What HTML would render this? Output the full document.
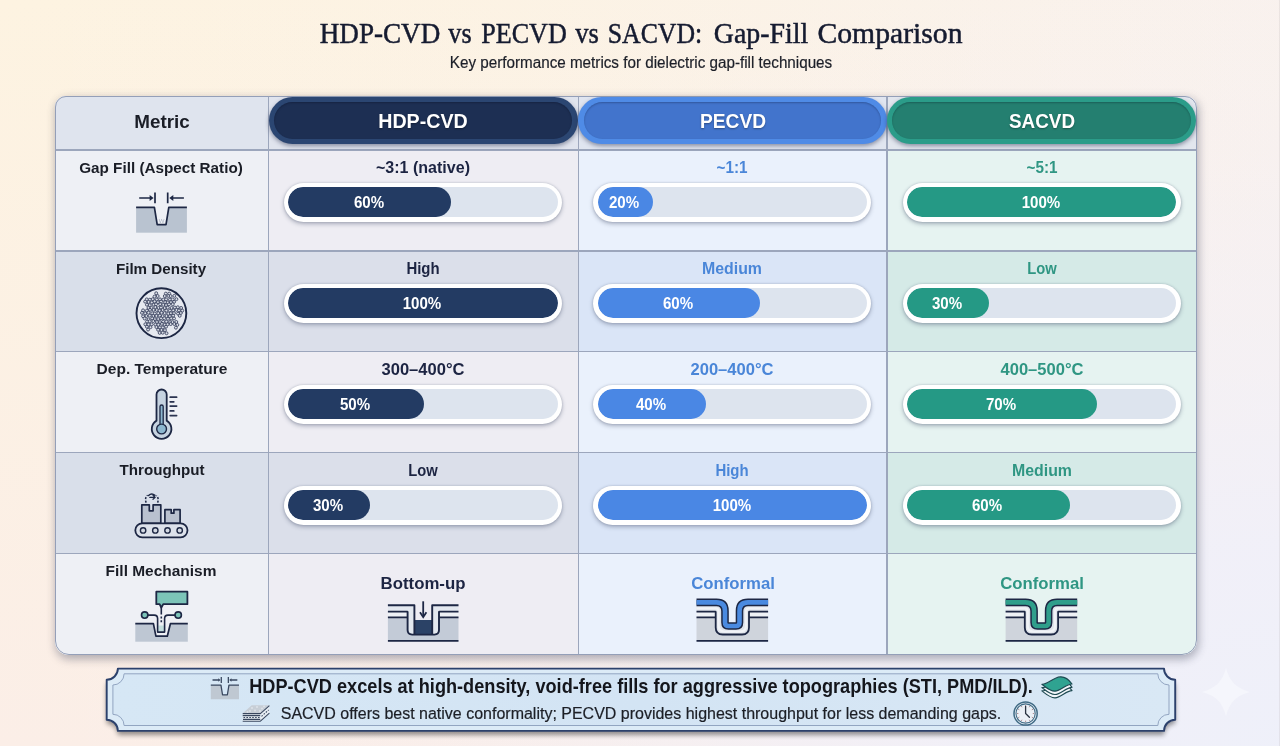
<!DOCTYPE html>
<html lang="en">
<head>
<meta charset="utf-8">
<title>HDP-CVD vs PECVD vs SACVD: Gap-Fill Comparison</title>
<style>
*{box-sizing:border-box;margin:0;padding:0}
html,body{width:1280px;height:746px;overflow:hidden}
body{position:relative;font-family:"Liberation Sans",sans-serif;color:#1b1f2a;
 background:
  radial-gradient(ellipse 1150px 800px at 100% 100%, rgba(238,240,250,.95) 0%, rgba(240,240,249,.9) 25%, rgba(241,240,248,.5) 50%, rgba(242,240,247,.12) 75%, rgba(242,240,247,0) 100%),
  linear-gradient(90deg, rgba(245,240,250,0) 0%, rgba(245,240,250,.12) 40%, rgba(245,240,250,.5) 100%),
  linear-gradient(180deg,#fdf3e1 0%,#fbeee7 100%);}
.abs{position:absolute}
h1{font-size:30px;font-weight:normal}
.tx{position:absolute;white-space:nowrap;line-height:1;font-weight:normal}
.tx.b{font-weight:bold}
.tx.r{-webkit-text-stroke:0.2px currentColor}
.tx.serif{font-family:"Liberation Serif",serif;-webkit-text-stroke:0.5px #151b30}
.tx.sh{text-shadow:0 1px 2px rgba(0,0,0,.35)}
#table{position:absolute;border-radius:11px 12px 15px 14px;overflow:hidden;background:#eceef4}
#tshadow{position:absolute;border-radius:11px 12px 15px 14px;box-shadow:0 5px 9px rgba(85,88,110,.26),2px 2px 10px rgba(85,88,110,.28)}
#tborder{position:absolute;border-radius:11px 12px 15px 14px;border:1.4px solid #949fb8}
.cell{position:absolute}
.vl{position:absolute;width:1.4px;background:#9ca6bc}
.hl{position:absolute;height:1.5px;background:#9ca6bc}
.hp{position:absolute;border-radius:24px;box-shadow:0 2px 4px rgba(30,40,70,.45)}
.hp i{position:absolute;left:5.4px;top:5.4px;right:5.4px;bottom:5.4px;border-radius:19px;box-shadow:inset 0 1px 2px rgba(0,0,20,.25)}
.bar{position:absolute;width:278px;height:38.5px;border-radius:20px;background:#fff;box-shadow:0 2px 4px rgba(60,70,100,.38),0 0 2px rgba(60,70,100,.25)}
.trk{position:absolute;left:4.2px;top:4px;width:269.6px;height:30px;border-radius:15px;background:#dde4ee;overflow:hidden}
.fill{position:absolute;left:0;top:0;height:30px;border-radius:15px}
.f1{background:#233b63}.f2{background:#4a87e4}.f3{background:#259985}
svg{position:absolute;overflow:visible}
</style>
</head>
<body>

<h1 id="title">
<span id="t0" class="tx serif  " style="left:379.55px;top:18.08px;font-size:30px;color:#151b30;transform:translateX(-50%) scaleX(0.9036)">HDP-CVD</span>
<span id="t1" class="tx serif  " style="left:459.85px;top:18.08px;font-size:30px;color:#151b30;transform:translateX(-50%) scaleX(0.8731)">vs</span>
<span id="t2" class="tx serif  " style="left:523.55px;top:18.08px;font-size:30px;color:#151b30;transform:translateX(-50%) scaleX(0.8693)">PECVD</span>
<span id="t3" class="tx serif  " style="left:586.80px;top:18.08px;font-size:30px;color:#151b30;transform:translateX(-50%) scaleX(0.8843)">vs</span>
<span id="t4" class="tx serif  " style="left:655.15px;top:18.08px;font-size:30px;color:#151b30;transform:translateX(-50%) scaleX(0.8588)">SACVD:</span>
<span id="t5" class="tx serif  " style="left:760.95px;top:18.08px;font-size:30px;color:#151b30;transform:translateX(-50%) scaleX(0.9295)">Gap-Fill</span>
<span id="t6" class="tx serif  " style="left:890.25px;top:18.08px;font-size:30px;color:#151b30;transform:translateX(-50%) scaleX(0.9893)">Comparison</span>
</h1>
<div id="t7" class="tx  r " style="left:640.80px;top:55.46px;font-size:16px;color:#1c1f28;transform:translateX(-50%) scaleX(0.9514)">Key performance metrics for dielectric gap-fill techniques</div>
<div id="tshadow" style="left:54.5px;top:96.2px;width:1142.0px;height:558.8px"></div>
<div id="table" style="left:54.5px;top:96.2px;width:1142.0px;height:558.8px">
<div class="cell" style="left:0.0px;top:0.0px;width:214.0px;height:53.60000000000001px;background:#dfe4ee"></div>
<div class="cell" style="left:0.0px;top:53.60000000000001px;width:214.0px;height:101.0px;background:#eef0f5"></div>
<div class="cell" style="left:0.0px;top:154.60000000000002px;width:214.0px;height:100.89999999999998px;background:#d9dfea"></div>
<div class="cell" style="left:0.0px;top:255.5px;width:214.0px;height:101.0px;background:#eef0f5"></div>
<div class="cell" style="left:0.0px;top:356.5px;width:214.0px;height:100.90000000000003px;background:#d9dfea"></div>
<div class="cell" style="left:0.0px;top:457.40000000000003px;width:214.0px;height:101.39999999999998px;background:#eef0f5"></div>
<div class="cell" style="left:214.0px;top:0.0px;width:309.70000000000005px;height:53.60000000000001px;background:#e0e4ee"></div>
<div class="cell" style="left:214.0px;top:53.60000000000001px;width:309.70000000000005px;height:101.0px;background:#eeedf3"></div>
<div class="cell" style="left:214.0px;top:154.60000000000002px;width:309.70000000000005px;height:100.89999999999998px;background:#dbdfea"></div>
<div class="cell" style="left:214.0px;top:255.5px;width:309.70000000000005px;height:101.0px;background:#eeedf3"></div>
<div class="cell" style="left:214.0px;top:356.5px;width:309.70000000000005px;height:100.90000000000003px;background:#dbdfea"></div>
<div class="cell" style="left:214.0px;top:457.40000000000003px;width:309.70000000000005px;height:101.39999999999998px;background:#eeedf3"></div>
<div class="cell" style="left:523.7px;top:0.0px;width:308.9px;height:53.60000000000001px;background:#e0e5f0"></div>
<div class="cell" style="left:523.7px;top:53.60000000000001px;width:308.9px;height:101.0px;background:#eaf1fc"></div>
<div class="cell" style="left:523.7px;top:154.60000000000002px;width:308.9px;height:100.89999999999998px;background:#dae5f7"></div>
<div class="cell" style="left:523.7px;top:255.5px;width:308.9px;height:101.0px;background:#eaf1fc"></div>
<div class="cell" style="left:523.7px;top:356.5px;width:308.9px;height:100.90000000000003px;background:#dae5f7"></div>
<div class="cell" style="left:523.7px;top:457.40000000000003px;width:308.9px;height:101.39999999999998px;background:#eaf1fc"></div>
<div class="cell" style="left:832.6px;top:0.0px;width:309.4px;height:53.60000000000001px;background:#e2e6ee"></div>
<div class="cell" style="left:832.6px;top:53.60000000000001px;width:309.4px;height:101.0px;background:#e6f3f1"></div>
<div class="cell" style="left:832.6px;top:154.60000000000002px;width:309.4px;height:100.89999999999998px;background:#d5eae7"></div>
<div class="cell" style="left:832.6px;top:255.5px;width:309.4px;height:101.0px;background:#e6f3f1"></div>
<div class="cell" style="left:832.6px;top:356.5px;width:309.4px;height:100.90000000000003px;background:#d5eae7"></div>
<div class="cell" style="left:832.6px;top:457.40000000000003px;width:309.4px;height:101.39999999999998px;background:#e6f3f1"></div>
<div class="vl" style="left:213.3px;top:0;height:558.8px"></div>
<div class="vl" style="left:523.0px;top:0;height:558.8px"></div>
<div class="vl" style="left:831.9px;top:0;height:558.8px"></div>
<div class="hl" style="top:52.85000000000001px;left:0;width:1142.0px"></div>
<div class="hl" style="top:153.85000000000002px;left:0;width:1142.0px"></div>
<div class="hl" style="top:254.75px;left:0;width:1142.0px"></div>
<div class="hl" style="top:355.75px;left:0;width:1142.0px"></div>
<div class="hl" style="top:456.65000000000003px;left:0;width:1142.0px"></div>
</div>
<div id="tborder" style="left:54.5px;top:96.2px;width:1142.0px;height:558.8px"></div>
<div class="hp" style="left:268.5px;top:96.6px;width:309.20000000000005px;height:47.8px;background:#2b4672"><i style="background:#1d2f53"></i></div>
<div id="t8" class="tx  b sh" style="left:423.35px;top:111.79px;font-size:19.5px;color:#ffffff;transform:translateX(-50%) scaleX(1.0074)">HDP-CVD</div>
<div class="hp" style="left:578.2px;top:96.6px;width:308.4px;height:47.8px;background:#4f8be6"><i style="background:#4274cc"></i></div>
<div id="t9" class="tx  b sh" style="left:732.65px;top:111.79px;font-size:19.5px;color:#ffffff;transform:translateX(-50%) scaleX(0.9823)">PECVD</div>
<div class="hp" style="left:887.1px;top:96.6px;width:308.9px;height:47.8px;background:#2b9c89"><i style="background:#247f70"></i></div>
<div id="t10" class="tx  b sh" style="left:1041.80px;top:111.79px;font-size:19.5px;color:#ffffff;transform:translateX(-50%) scaleX(0.9668)">SACVD</div>
<div id="t11" class="tx  b " style="left:161.50px;top:112.62px;font-size:18.4px;color:#1a1d26;transform:translateX(-50%) scaleX(1.0245)">Metric</div>
<div id="t12" class="tx  b " style="left:161.20px;top:159.58px;font-size:15.5px;color:#1a1d26;transform:translateX(-50%) scaleX(0.9842)">Gap Fill (Aspect Ratio)</div>
<div id="t13" class="tx  b " style="left:161.40px;top:260.58px;font-size:15.5px;color:#1a1d26;transform:translateX(-50%) scaleX(0.9786)">Film Density</div>
<div id="t14" class="tx  b " style="left:161.50px;top:361.48px;font-size:15.5px;color:#1a1d26;transform:translateX(-50%) scaleX(1.0020)">Dep. Temperature</div>
<div id="t15" class="tx  b " style="left:161.50px;top:462.48px;font-size:15.5px;color:#1a1d26;transform:translateX(-50%) scaleX(0.9764)">Throughput</div>
<div id="t16" class="tx  b " style="left:161.30px;top:563.38px;font-size:15.5px;color:#1a1d26;transform:translateX(-50%) scaleX(0.9971)">Fill Mechanism</div>
<div id="t17" class="tx  b " style="left:423.05px;top:159.86px;font-size:16px;color:#1c2442;transform:translateX(-50%) scaleX(1.0020)">~3:1 (native)</div>
<div class="bar" style="left:284.15px;top:183.10px"><div class="trk"><div class="fill f1" style="width:162.76px"></div></div></div>
<div id="t18" class="tx  b " style="left:368.93px;top:194.00px;font-size:16.3px;color:#ffffff;transform:translateX(-50%) scaleX(0.9266)">60%</div>
<div id="t19" class="tx  b " style="left:732.35px;top:159.86px;font-size:16px;color:#4a86d8;transform:translateX(-50%) scaleX(0.9548)">~1:1</div>
<div class="bar" style="left:593.45px;top:183.10px"><div class="trk"><div class="fill f2" style="width:54.92px"></div></div></div>
<div id="t20" class="tx  b " style="left:624.31px;top:194.00px;font-size:16.3px;color:#ffffff;transform:translateX(-50%) scaleX(0.9266)">20%</div>
<div id="t21" class="tx  b " style="left:1041.50px;top:159.86px;font-size:16px;color:#2f9683;transform:translateX(-50%) scaleX(0.9548)">~5:1</div>
<div class="bar" style="left:902.60px;top:183.10px"><div class="trk"><div class="fill f3" style="width:269.60px"></div></div></div>
<div id="t22" class="tx  b " style="left:1040.80px;top:194.00px;font-size:16.3px;color:#ffffff;transform:translateX(-50%) scaleX(0.9266)">100%</div>
<div id="t23" class="tx  b " style="left:423.05px;top:260.86px;font-size:16px;color:#1c2442;transform:translateX(-50%) scaleX(0.9340)">High</div>
<div class="bar" style="left:284.15px;top:284.10px"><div class="trk"><div class="fill f1" style="width:269.60px"></div></div></div>
<div id="t24" class="tx  b " style="left:422.35px;top:295.00px;font-size:16.3px;color:#ffffff;transform:translateX(-50%) scaleX(0.9266)">100%</div>
<div id="t25" class="tx  b " style="left:732.35px;top:260.86px;font-size:16px;color:#4a86d8;transform:translateX(-50%) scaleX(0.9925)">Medium</div>
<div class="bar" style="left:593.45px;top:284.10px"><div class="trk"><div class="fill f2" style="width:162.76px"></div></div></div>
<div id="t26" class="tx  b " style="left:678.23px;top:295.00px;font-size:16.3px;color:#ffffff;transform:translateX(-50%) scaleX(0.9266)">60%</div>
<div id="t27" class="tx  b " style="left:1041.50px;top:260.86px;font-size:16px;color:#2f9683;transform:translateX(-50%) scaleX(0.9219)">Low</div>
<div class="bar" style="left:902.60px;top:284.10px"><div class="trk"><div class="fill f3" style="width:81.88px"></div></div></div>
<div id="t28" class="tx  b " style="left:946.94px;top:295.00px;font-size:16.3px;color:#ffffff;transform:translateX(-50%) scaleX(0.9266)">30%</div>
<div id="t29" class="tx  b " style="left:423.05px;top:361.76px;font-size:16px;color:#1c2442;transform:translateX(-50%) scaleX(1.0343)">300–400°C</div>
<div class="bar" style="left:284.15px;top:385.00px"><div class="trk"><div class="fill f1" style="width:135.80px"></div></div></div>
<div id="t30" class="tx  b " style="left:355.45px;top:395.90px;font-size:16.3px;color:#ffffff;transform:translateX(-50%) scaleX(0.9266)">50%</div>
<div id="t31" class="tx  b " style="left:732.35px;top:361.76px;font-size:16px;color:#4a86d8;transform:translateX(-50%) scaleX(1.0343)">200–400°C</div>
<div class="bar" style="left:593.45px;top:385.00px"><div class="trk"><div class="fill f2" style="width:108.84px"></div></div></div>
<div id="t32" class="tx  b " style="left:651.27px;top:395.90px;font-size:16.3px;color:#ffffff;transform:translateX(-50%) scaleX(0.9266)">40%</div>
<div id="t33" class="tx  b " style="left:1041.50px;top:361.76px;font-size:16px;color:#2f9683;transform:translateX(-50%) scaleX(1.0343)">400–500°C</div>
<div class="bar" style="left:902.60px;top:385.00px"><div class="trk"><div class="fill f3" style="width:189.72px"></div></div></div>
<div id="t34" class="tx  b " style="left:1000.86px;top:395.90px;font-size:16.3px;color:#ffffff;transform:translateX(-50%) scaleX(0.9266)">70%</div>
<div id="t35" class="tx  b " style="left:423.05px;top:462.76px;font-size:16px;color:#1c2442;transform:translateX(-50%) scaleX(0.9219)">Low</div>
<div class="bar" style="left:284.15px;top:486.00px"><div class="trk"><div class="fill f1" style="width:81.88px"></div></div></div>
<div id="t36" class="tx  b " style="left:328.49px;top:496.90px;font-size:16.3px;color:#ffffff;transform:translateX(-50%) scaleX(0.9266)">30%</div>
<div id="t37" class="tx  b " style="left:732.35px;top:462.76px;font-size:16px;color:#4a86d8;transform:translateX(-50%) scaleX(0.9340)">High</div>
<div class="bar" style="left:593.45px;top:486.00px"><div class="trk"><div class="fill f2" style="width:269.60px"></div></div></div>
<div id="t38" class="tx  b " style="left:731.65px;top:496.90px;font-size:16.3px;color:#ffffff;transform:translateX(-50%) scaleX(0.9266)">100%</div>
<div id="t39" class="tx  b " style="left:1041.50px;top:462.76px;font-size:16px;color:#2f9683;transform:translateX(-50%) scaleX(0.9925)">Medium</div>
<div class="bar" style="left:902.60px;top:486.00px"><div class="trk"><div class="fill f3" style="width:162.76px"></div></div></div>
<div id="t40" class="tx  b " style="left:987.38px;top:496.90px;font-size:16.3px;color:#ffffff;transform:translateX(-50%) scaleX(0.9266)">60%</div>
<div id="t41" class="tx  b " style="left:423.25px;top:574.61px;font-size:17px;color:#1c2442;transform:translateX(-50%) scaleX(0.9881)">Bottom-up</div>
<div id="t42" class="tx  b " style="left:732.55px;top:574.61px;font-size:17px;color:#4a86d8;transform:translateX(-50%) scaleX(0.9847)">Conformal</div>
<div id="t43" class="tx  b " style="left:1041.70px;top:574.61px;font-size:17px;color:#2f9683;transform:translateX(-50%) scaleX(0.9847)">Conformal</div>
<svg width="1280" height="746" viewBox="0 0 1280 746" style="left:0;top:0"><g><rect x="136.10" y="207.40" width="50.80" height="25.30" fill="#b9c3d0"/><polygon points="154.30,206.60 157.20,224.60 166.00,224.60 168.90,206.60" fill="#eef0f5"/><polyline points="136.10,207.40 154.40,207.40 157.20,224.60 166.00,224.60 168.80,207.40 186.90,207.40" fill="none" stroke="#1d2744" stroke-width="1.70" stroke-linejoin="round"/><path d="M139.20 198.00H151.00M155.00 192.60V203.30M167.70 192.60V203.30M172.00 198.00H183.90" stroke="#1d2744" stroke-width="1.70" fill="none"/><polygon points="153.60,198.00 149.60,195.00 149.60,201.00" fill="#1d2744"/><polygon points="169.30,198.00 173.30,195.00 173.30,201.00" fill="#1d2744"/><text x="161.60" y="222.60" font-family="Liberation Sans, sans-serif" font-size="6.0" fill="#aab2c0" text-anchor="middle">W</text></g><g><circle cx="161.4" cy="313.2" r="24.9" fill="#e6e9f0" stroke="#1d2744" stroke-width="1.9"/><g fill="#d9dde6" stroke="#2d3654" stroke-width="0.8"><circle cx="156.21" cy="293.23" r="1.45"/><circle cx="165.82" cy="293.59" r="1.45"/><circle cx="169.24" cy="293.61" r="1.45"/><circle cx="154.54" cy="296.56" r="1.45"/><circle cx="157.68" cy="296.01" r="1.45"/><circle cx="164.78" cy="296.07" r="1.45"/><circle cx="168.36" cy="295.99" r="1.45"/><circle cx="170.62" cy="296.06" r="1.45"/><circle cx="174.34" cy="295.83" r="1.45"/><circle cx="146.76" cy="299.38" r="1.45"/><circle cx="149.83" cy="299.68" r="1.45"/><circle cx="152.81" cy="299.18" r="1.45"/><circle cx="156.79" cy="299.57" r="1.45"/><circle cx="160.04" cy="299.35" r="1.45"/><circle cx="163.35" cy="299.58" r="1.45"/><circle cx="166.11" cy="299.33" r="1.45"/><circle cx="169.97" cy="299.54" r="1.45"/><circle cx="172.68" cy="299.45" r="1.45"/><circle cx="176.42" cy="299.21" r="1.45"/><circle cx="145.13" cy="301.65" r="1.45"/><circle cx="148.62" cy="301.94" r="1.45"/><circle cx="151.78" cy="302.40" r="1.45"/><circle cx="154.63" cy="301.40" r="1.45"/><circle cx="157.93" cy="302.14" r="1.45"/><circle cx="161.07" cy="301.58" r="1.45"/><circle cx="165.10" cy="302.12" r="1.45"/><circle cx="167.84" cy="302.37" r="1.45"/><circle cx="170.96" cy="302.12" r="1.45"/><circle cx="174.07" cy="301.87" r="1.45"/><circle cx="146.91" cy="304.75" r="1.45"/><circle cx="149.82" cy="305.13" r="1.45"/><circle cx="153.81" cy="304.70" r="1.45"/><circle cx="156.06" cy="304.24" r="1.45"/><circle cx="160.19" cy="304.25" r="1.45"/><circle cx="163.25" cy="304.83" r="1.45"/><circle cx="166.06" cy="305.08" r="1.45"/><circle cx="169.00" cy="304.36" r="1.45"/><circle cx="172.73" cy="304.23" r="1.45"/><circle cx="148.53" cy="307.85" r="1.45"/><circle cx="151.53" cy="307.89" r="1.45"/><circle cx="155.35" cy="307.12" r="1.45"/><circle cx="158.63" cy="307.82" r="1.45"/><circle cx="160.99" cy="307.52" r="1.45"/><circle cx="164.79" cy="308.02" r="1.45"/><circle cx="167.76" cy="307.65" r="1.45"/><circle cx="171.57" cy="307.90" r="1.45"/><circle cx="174.89" cy="307.53" r="1.45"/><circle cx="177.82" cy="307.25" r="1.45"/><circle cx="181.14" cy="307.92" r="1.45"/><circle cx="143.07" cy="310.32" r="1.45"/><circle cx="146.83" cy="310.68" r="1.45"/><circle cx="150.01" cy="309.87" r="1.45"/><circle cx="153.62" cy="309.91" r="1.45"/><circle cx="156.85" cy="310.03" r="1.45"/><circle cx="159.59" cy="310.70" r="1.45"/><circle cx="162.63" cy="310.00" r="1.45"/><circle cx="166.29" cy="310.63" r="1.45"/><circle cx="169.90" cy="310.59" r="1.45"/><circle cx="173.27" cy="310.38" r="1.45"/><circle cx="176.52" cy="309.93" r="1.45"/><circle cx="178.97" cy="310.41" r="1.45"/><circle cx="182.29" cy="310.64" r="1.45"/><circle cx="141.98" cy="312.87" r="1.45"/><circle cx="145.19" cy="313.20" r="1.45"/><circle cx="148.52" cy="312.68" r="1.45"/><circle cx="152.17" cy="313.22" r="1.45"/><circle cx="154.79" cy="313.53" r="1.45"/><circle cx="158.22" cy="313.19" r="1.45"/><circle cx="161.61" cy="312.72" r="1.45"/><circle cx="164.69" cy="313.11" r="1.45"/><circle cx="168.40" cy="313.67" r="1.45"/><circle cx="170.90" cy="313.17" r="1.45"/><circle cx="173.99" cy="313.13" r="1.45"/><circle cx="178.00" cy="313.64" r="1.45"/><circle cx="180.87" cy="313.00" r="1.45"/><circle cx="143.09" cy="316.27" r="1.45"/><circle cx="146.36" cy="316.03" r="1.45"/><circle cx="149.75" cy="315.68" r="1.45"/><circle cx="153.31" cy="315.94" r="1.45"/><circle cx="156.39" cy="315.92" r="1.45"/><circle cx="159.81" cy="315.64" r="1.45"/><circle cx="162.70" cy="316.16" r="1.45"/><circle cx="166.43" cy="316.05" r="1.45"/><circle cx="169.91" cy="316.14" r="1.45"/><circle cx="173.17" cy="315.72" r="1.45"/><circle cx="179.72" cy="315.81" r="1.45"/><circle cx="144.62" cy="318.50" r="1.45"/><circle cx="148.60" cy="319.28" r="1.45"/><circle cx="152.17" cy="318.41" r="1.45"/><circle cx="154.91" cy="319.11" r="1.45"/><circle cx="158.15" cy="319.03" r="1.45"/><circle cx="161.06" cy="318.36" r="1.45"/><circle cx="164.22" cy="318.32" r="1.45"/><circle cx="167.96" cy="318.85" r="1.45"/><circle cx="171.23" cy="318.44" r="1.45"/><circle cx="174.05" cy="318.50" r="1.45"/><circle cx="147.04" cy="321.54" r="1.45"/><circle cx="149.69" cy="321.28" r="1.45"/><circle cx="153.29" cy="321.11" r="1.45"/><circle cx="156.96" cy="321.98" r="1.45"/><circle cx="160.00" cy="322.04" r="1.45"/><circle cx="163.17" cy="321.54" r="1.45"/><circle cx="166.38" cy="321.65" r="1.45"/><circle cx="170.06" cy="321.98" r="1.45"/><circle cx="172.51" cy="322.10" r="1.45"/><circle cx="176.29" cy="321.95" r="1.45"/><circle cx="145.33" cy="324.28" r="1.45"/><circle cx="148.58" cy="324.53" r="1.45"/><circle cx="151.69" cy="324.34" r="1.45"/><circle cx="155.45" cy="324.61" r="1.45"/><circle cx="158.37" cy="324.75" r="1.45"/><circle cx="161.93" cy="323.93" r="1.45"/><circle cx="164.78" cy="324.72" r="1.45"/><circle cx="167.63" cy="324.35" r="1.45"/><circle cx="170.66" cy="324.12" r="1.45"/><circle cx="174.26" cy="324.02" r="1.45"/><circle cx="177.38" cy="324.90" r="1.45"/><circle cx="146.90" cy="326.79" r="1.45"/><circle cx="150.51" cy="327.19" r="1.45"/><circle cx="156.38" cy="327.04" r="1.45"/><circle cx="159.95" cy="327.34" r="1.45"/><circle cx="162.79" cy="327.51" r="1.45"/><circle cx="166.05" cy="326.74" r="1.45"/><circle cx="175.90" cy="327.71" r="1.45"/><circle cx="148.07" cy="329.59" r="1.45"/><circle cx="158.10" cy="329.83" r="1.45"/><circle cx="161.49" cy="330.00" r="1.45"/><circle cx="164.96" cy="330.12" r="1.45"/><circle cx="159.64" cy="332.88" r="1.45"/><circle cx="162.71" cy="332.73" r="1.45"/><circle cx="166.54" cy="333.27" r="1.45"/></g></g><g><path d="M156.50 420.63V394.60A5.1 5.1 0 0 1 166.70 394.60V420.63A9.8 9.8 0 1 1 156.50 420.63Z" fill="#c6d3e0" stroke="#1d2744" stroke-width="1.8" stroke-linejoin="round"/><path d="M160.00 425V406.6A1.6 1.6 0 0 1 163.20 406.6V425" fill="#8db7cf" stroke="#1d2744" stroke-width="1.3"/><circle cx="161.6" cy="429.0" r="4.9" fill="#8db7cf" stroke="#1d2744" stroke-width="1.4"/><line x1="170.2" y1="397.2" x2="176.6" y2="397.2" stroke="#2a3350" stroke-width="1.7" stroke-linecap="round"/><line x1="170.2" y1="401.8" x2="173.8" y2="401.8" stroke="#2a3350" stroke-width="1.7" stroke-linecap="round"/><line x1="170.2" y1="406.1" x2="176.6" y2="406.1" stroke="#2a3350" stroke-width="1.7" stroke-linecap="round"/><line x1="170.2" y1="410.9" x2="173.8" y2="410.9" stroke="#2a3350" stroke-width="1.7" stroke-linecap="round"/><line x1="170.2" y1="415.6" x2="176.6" y2="415.6" stroke="#2a3350" stroke-width="1.7" stroke-linecap="round"/></g><g><path d="M141.8 523.4V504.8H149.3V510.8H153.1V504.8H160.8V523.4Z" fill="#b9c1cf" stroke="#1d2744" stroke-width="1.7" stroke-linejoin="round"/><path d="M164.9 523.4V509.7H171.2V513.2H173.9V509.7H180.1V523.4Z" fill="#b9c1cf" stroke="#1d2744" stroke-width="1.7" stroke-linejoin="round"/><rect x="135.3" y="523.4" width="52.2" height="13.9" rx="6.95" fill="#dde2eb" stroke="#1d2744" stroke-width="1.8"/><circle cx="143.1" cy="530.4" r="2.7" fill="#d3d9e3" stroke="#1d2744" stroke-width="1.4"/><circle cx="155.3" cy="530.4" r="2.7" fill="#d3d9e3" stroke="#1d2744" stroke-width="1.4"/><circle cx="167.5" cy="530.4" r="2.7" fill="#d3d9e3" stroke="#1d2744" stroke-width="1.4"/><circle cx="179.7" cy="530.4" r="2.7" fill="#d3d9e3" stroke="#1d2744" stroke-width="1.4"/><path d="M146.2 502.6A6.1 6.1 0 0 1 147.6 495.2" fill="none" stroke="#1d2744" stroke-width="1.5" stroke-dasharray="2 1.5"/><path d="M157.6 502.6A6.1 6.1 0 0 0 156.4 495.6" fill="none" stroke="#1d2744" stroke-width="1.5" stroke-dasharray="2 1.5"/><path d="M148.6 495.6Q151.5 492.6 155 495.4" fill="none" stroke="#1d2744" stroke-width="1.4" stroke-linecap="round"/><path d="M149.8 497.4H154.4M153 495.3L155.2 497.4L153 499.3" fill="none" stroke="#1d2744" stroke-width="1.2" stroke-linecap="round" stroke-linejoin="round"/></g><g><rect x="135.3" y="623.7" width="52.5" height="18" fill="#bec7d3"/><polygon points="153.3,623 155.9,636.2 167.3,636.2 170.5,623" fill="#eef0f5"/><rect x="158.2" y="625.5" width="6" height="6.4" fill="#c4dfde"/><polyline points="135.3,623.7 153.4,623.7 155.9,636.2 167.3,636.2 170.4,623.7 187.8,623.7" fill="none" stroke="#1d2744" stroke-width="1.7" stroke-linejoin="round"/><path d="M147.5 615.1H154.2Q157.6 615.1 157.6 618.6V632.1H164.6V618.6Q164.6 615.1 168 615.1H175" fill="none" stroke="#1d2744" stroke-width="1.6" stroke-linejoin="round"/><circle cx="144.7" cy="615.1" r="3.2" fill="#7cc4b8" stroke="#1d2744" stroke-width="1.6"/><circle cx="178.2" cy="615.1" r="3.2" fill="#7cc4b8" stroke="#1d2744" stroke-width="1.6"/><path d="M156.3 591.7H187.4V604.2H163.2L161.3 607.6L159.6 604.2H156.3Z" fill="#7cc4b8" stroke="#1d2744" stroke-width="1.8" stroke-linejoin="round"/><path d="M161.3 607V614.5" stroke="#1d2744" stroke-width="1.6" fill="none"/><path d="M161.3 616.5V624" stroke="#1d2744" stroke-width="1.6" fill="none" stroke-dasharray="2 1.7"/></g><g><rect x="387.9" y="617.4" width="70.60000000000002" height="23" fill="#c3cbd7"/><path d="M387.90 611.60H407.10Q407.60 611.60 407.60 612.10V630.10Q407.60 634.60 412.10 634.60H434.50Q439.00 634.60 439.00 630.10V612.10Q439.00 611.60 439.50 611.60H458.50V605.3H387.9Z" fill="#e3e8ef"/><rect x="387.9" y="611.6" width="19.700000000000045" height="5.8" fill="#eef1f5"/><rect x="439" y="611.6" width="19.5" height="5.8" fill="#eef1f5"/><rect x="414.4" y="600" width="17.8" height="34.4" fill="#eeedf3"/><rect x="414.4" y="620" width="17.8" height="14.4" fill="#2b4266"/><path d="M387.90 611.60H407.10Q407.60 611.60 407.60 612.10V630.10Q407.60 634.60 412.10 634.60H434.50Q439.00 634.60 439.00 630.10V612.10Q439.00 611.60 439.50 611.60H458.50" fill="none" stroke="#1d2744" stroke-width="1.9"/><path d="M387.9 605.3H414.4V634.4M458.5 605.3H432.2V634.4" fill="none" stroke="#1d2744" stroke-width="1.9" stroke-linejoin="round"/><path d="M387.9 617.4H407.6M439 617.4H458.5M387.9 640.9H458.5" fill="none" stroke="#1d2744" stroke-width="1.9"/><path d="M423.2 601.3V616" stroke="#1d2744" stroke-width="1.8" fill="none"/><path d="M420 612.3L423.2 617.2L426.4 612.3" stroke="#1d2744" stroke-width="1.8" fill="none" stroke-linejoin="miter"/></g><g><rect x="696.50" y="617.4" width="71.60" height="23" fill="#cfd4dc"/><path d="M696.50 611.60H715.20Q715.70 611.60 715.70 612.10V627.50Q715.70 634.50 722.70 634.50H742.00Q749.00 634.50 749.00 627.50V612.10Q749.00 611.60 749.50 611.60H768.10V600H696.50Z" fill="#dfe3ea"/><rect x="696.50" y="611.6" width="19.20" height="5.8" fill="#eef1f5"/><rect x="749.00" y="611.6" width="19.10" height="5.8" fill="#eef1f5"/><path d="M696.50 608.40H715.60Q718.60 608.40 718.60 611.40V625.60Q718.60 631.60 724.60 631.60H740.00Q746.00 631.60 746.00 625.60V611.40Q746.00 608.40 749.00 608.40H768.10" fill="none" stroke="#f1f3f7" stroke-width="2.2"/><path d="M696.50 602.40H716.50Q725.00 602.40 725.00 610.90V622.50Q725.00 626.00 728.50 626.00H736.00Q739.50 626.00 739.50 622.50V610.90Q739.50 602.40 748.00 602.40H768.10V596H696.50Z" fill="#eaf1fc"/><path d="M696.50 602.40H716.50Q725.00 602.40 725.00 610.90V622.50Q725.00 626.00 728.50 626.00H736.00Q739.50 626.00 739.50 622.50V610.90Q739.50 602.40 748.00 602.40H768.10" fill="none" stroke="#1d2744" stroke-width="7.6"/><path d="M696.50 602.40H716.50Q725.00 602.40 725.00 610.90V622.50Q725.00 626.00 728.50 626.00H736.00Q739.50 626.00 739.50 622.50V610.90Q739.50 602.40 748.00 602.40H768.10" fill="none" stroke="#4a8ae0" stroke-width="4.6"/><path d="M696.50 611.60H715.20Q715.70 611.60 715.70 612.10V627.50Q715.70 634.50 722.70 634.50H742.00Q749.00 634.50 749.00 627.50V612.10Q749.00 611.60 749.50 611.60H768.10" fill="none" stroke="#1d2744" stroke-width="1.8"/><path d="M696.50 617.4H715.70M749.00 617.4H768.10M696.50 640.9H768.10" fill="none" stroke="#1d2744" stroke-width="1.9"/></g><g><rect x="1005.60" y="617.4" width="71.60" height="23" fill="#cfd4dc"/><path d="M1005.60 611.60H1024.30Q1024.80 611.60 1024.80 612.10V627.50Q1024.80 634.50 1031.80 634.50H1051.10Q1058.10 634.50 1058.10 627.50V612.10Q1058.10 611.60 1058.60 611.60H1077.20V600H1005.60Z" fill="#dfe3ea"/><rect x="1005.60" y="611.6" width="19.20" height="5.8" fill="#eef1f5"/><rect x="1058.10" y="611.6" width="19.10" height="5.8" fill="#eef1f5"/><path d="M1005.60 608.40H1024.70Q1027.70 608.40 1027.70 611.40V625.60Q1027.70 631.60 1033.70 631.60H1049.10Q1055.10 631.60 1055.10 625.60V611.40Q1055.10 608.40 1058.10 608.40H1077.20" fill="none" stroke="#f1f3f7" stroke-width="2.2"/><path d="M1005.60 602.40H1025.60Q1034.10 602.40 1034.10 610.90V622.50Q1034.10 626.00 1037.60 626.00H1045.10Q1048.60 626.00 1048.60 622.50V610.90Q1048.60 602.40 1057.10 602.40H1077.20V596H1005.60Z" fill="#e6f3f1"/><path d="M1005.60 602.40H1025.60Q1034.10 602.40 1034.10 610.90V622.50Q1034.10 626.00 1037.60 626.00H1045.10Q1048.60 626.00 1048.60 622.50V610.90Q1048.60 602.40 1057.10 602.40H1077.20" fill="none" stroke="#1d2744" stroke-width="7.6"/><path d="M1005.60 602.40H1025.60Q1034.10 602.40 1034.10 610.90V622.50Q1034.10 626.00 1037.60 626.00H1045.10Q1048.60 626.00 1048.60 622.50V610.90Q1048.60 602.40 1057.10 602.40H1077.20" fill="none" stroke="#2f9e8b" stroke-width="4.6"/><path d="M1005.60 611.60H1024.30Q1024.80 611.60 1024.80 612.10V627.50Q1024.80 634.50 1031.80 634.50H1051.10Q1058.10 634.50 1058.10 627.50V612.10Q1058.10 611.60 1058.60 611.60H1077.20" fill="none" stroke="#1d2744" stroke-width="1.8"/><path d="M1005.60 617.4H1024.80M1058.10 617.4H1077.20M1005.60 640.9H1077.20" fill="none" stroke="#1d2744" stroke-width="1.9"/></g></svg>
<svg width="1280" height="746" viewBox="0 0 1280 746" style="left:0;top:0"><defs><filter id="bsh" x="-5%" y="-30%" width="110%" height="170%"><feGaussianBlur in="SourceAlpha" stdDeviation="2.6"/><feOffset dy="3.5"/><feComponentTransfer><feFuncA type="linear" slope="0.42"/></feComponentTransfer></filter><linearGradient id="bfill" x1="0" y1="0" x2="1" y2="0"><stop offset="0" stop-color="#d6e7f5"/><stop offset="0.5" stop-color="#d3e4f4"/><stop offset="1" stop-color="#d9e8f5"/></linearGradient></defs><path d="M117.90 668.60H1164.00A11.2 11.2 0 0 0 1175.20 679.80V719.70A11.2 11.2 0 0 0 1164.00 730.90H117.90A11.2 11.2 0 0 0 106.70 719.70V679.80A11.2 11.2 0 0 0 117.90 668.60Z" fill="#4a5878" filter="url(#bsh)"/><path d="M117.90 668.60H1164.00A11.2 11.2 0 0 0 1175.20 679.80V719.70A11.2 11.2 0 0 0 1164.00 730.90H117.90A11.2 11.2 0 0 0 106.70 719.70V679.80A11.2 11.2 0 0 0 117.90 668.60Z" fill="#dcebf7" stroke="#2c416c" stroke-width="1.9" stroke-linejoin="round"/><path d="M124.10 673.80H1157.80A11.2 11.2 0 0 0 1169.00 685.00V714.30A11.2 11.2 0 0 0 1157.80 725.50H124.10A11.2 11.2 0 0 0 112.90 714.30V685.00A11.2 11.2 0 0 0 124.10 673.80Z" fill="url(#bfill)" stroke="#8a9dbb" stroke-width="0.9"/><g><rect x="210.80" y="685.21" width="28.19" height="14.04" fill="#bfc8d2"/><polygon points="220.90,684.77 222.51,694.76 227.39,694.76 229.00,684.77" fill="#d5e6f5"/><polyline points="210.80,685.21 220.96,685.21 222.51,694.76 227.39,694.76 228.95,685.21 238.99,685.21" fill="none" stroke="#39475f" stroke-width="1.27" stroke-linejoin="round"/><path d="M212.52 680.00H219.07M221.29 677.00V682.94M228.34 677.00V682.94M230.72 680.00H237.33" stroke="#39475f" stroke-width="1.27" fill="none"/><polygon points="220.51,680.00 218.29,678.33 218.29,681.66" fill="#39475f"/><polygon points="229.23,680.00 231.45,678.33 231.45,681.66" fill="#39475f"/></g><g><polygon points="242.7,713.3 260.4,713.3 269.4,705.3 251.7,705.3" fill="#c7ced6"/><circle cx="252" cy="708" r="0.9" fill="#dfe4ea"/><circle cx="257" cy="707" r="0.9" fill="#dfe4ea"/><circle cx="262" cy="708.5" r="0.9" fill="#dfe4ea"/><circle cx="250" cy="711" r="0.9" fill="#dfe4ea"/><circle cx="255" cy="710.5" r="0.9" fill="#dfe4ea"/><circle cx="260" cy="711" r="0.9" fill="#dfe4ea"/><circle cx="264" cy="706.5" r="0.9" fill="#dfe4ea"/><circle cx="247.5" cy="712" r="0.9" fill="#dfe4ea"/><rect x="242.7" y="713.3" width="17.7" height="8.2" fill="#e9eff5"/><polygon points="260.4,713.3 269.4,705.3 269.4,713.5 260.4,721.5" fill="#e9eff5"/><path d="M242.7 713.6H260.4L269.4 705.6M242.7 721.2H260.4L269.4 713.2M242.7 715.6H260.2M243 719.4H260.2" fill="none" stroke="#39475f" stroke-width="1.1" stroke-linejoin="round"/><path d="M243.5 717.5H260M261.5 716.4L268.6 710" fill="none" stroke="#39475f" stroke-width="1.1" stroke-dasharray="1.6 1.3"/></g><g><path d="M1041.9 690.90C1048 691.20 1053 684.10 1060.2 683.50C1066 683.10 1069.5 687.10 1072 690.60C1066 690.60 1061 697.60 1055 697.80C1050 697.90 1046 694.10 1041.9 690.90Z" fill="#f2f6fa" stroke="#1e4a52" stroke-width="1.2" stroke-linejoin="round"/><path d="M1041.9 687.60C1048 687.90 1053 680.80 1060.2 680.20C1066 679.80 1069.5 683.80 1072 687.30C1066 687.30 1061 694.30 1055 694.50C1050 694.60 1046 690.80 1041.9 687.60Z" fill="#f2f6fa" stroke="#1e4a52" stroke-width="1.2" stroke-linejoin="round"/><path d="M1041.9 684.30C1048 684.60 1053 677.50 1060.2 676.90C1066 676.50 1069.5 680.50 1072 684.00C1066 684.00 1061 691.00 1055 691.20C1050 691.30 1046 687.50 1041.9 684.30Z" fill="#2fa391" stroke="#1e4a52" stroke-width="1.2" stroke-linejoin="round"/></g><g><circle cx="1025.6" cy="713.5" r="11.6" fill="#e6edf5" stroke="#3f6a84" stroke-width="1.5"/><circle cx="1025.6" cy="713.5" r="9.6" fill="#ebf0f6" stroke="#3f6a84" stroke-width="1.1"/><line x1="1025.60" y1="706.30" x2="1025.60" y2="704.90" stroke="#a8868a" stroke-width="0.9"/><line x1="1029.20" y1="707.26" x2="1029.90" y2="706.05" stroke="#a8868a" stroke-width="0.9"/><line x1="1031.84" y1="709.90" x2="1033.05" y2="709.20" stroke="#a8868a" stroke-width="0.9"/><line x1="1032.80" y1="713.50" x2="1034.20" y2="713.50" stroke="#a8868a" stroke-width="0.9"/><line x1="1031.84" y1="717.10" x2="1033.05" y2="717.80" stroke="#a8868a" stroke-width="0.9"/><line x1="1029.20" y1="719.74" x2="1029.90" y2="720.95" stroke="#a8868a" stroke-width="0.9"/><line x1="1025.60" y1="720.70" x2="1025.60" y2="722.10" stroke="#a8868a" stroke-width="0.9"/><line x1="1022.00" y1="719.74" x2="1021.30" y2="720.95" stroke="#a8868a" stroke-width="0.9"/><line x1="1019.36" y1="717.10" x2="1018.15" y2="717.80" stroke="#a8868a" stroke-width="0.9"/><line x1="1018.40" y1="713.50" x2="1017.00" y2="713.50" stroke="#a8868a" stroke-width="0.9"/><line x1="1019.36" y1="709.90" x2="1018.15" y2="709.20" stroke="#a8868a" stroke-width="0.9"/><line x1="1022.00" y1="707.26" x2="1021.30" y2="706.05" stroke="#a8868a" stroke-width="0.9"/><path d="M1025.6 706.3V713.5L1029.4 717.2" fill="none" stroke="#2a3340" stroke-width="1.3" stroke-linecap="round" stroke-linejoin="round"/></g></svg>
<div id="t44" class="tx  b " style="left:640.75px;top:677.22px;font-size:19.7px;color:#14161c;transform:translateX(-50%) scaleX(0.9222)">HDP-CVD excels at high-density, void-free fills for aggressive topographies (STI, PMD/ILD).</div>
<div id="t45" class="tx  r " style="left:640.75px;top:704.60px;font-size:16.3px;color:#1c1f26;transform:translateX(-50%) scaleX(0.9821)">SACVD offers best native conformality; PECVD provides highest throughput for less demanding gaps.</div>
<svg width="50" height="50" viewBox="-25 -25 50 50" style="left:1201.3px;top:667.3px"><path d="M0 -23C3.5 -10 10 -3.5 23 0C10 3.5 3.5 10 0 23C-3.5 10 -10 3.5 -23 0C-10 -3.5 -3.5 -10 0 -23Z" fill="#f5f6fc" transform="scale(1.04)"/></svg><div class="abs" style="left:1278.5px;top:0;width:1.5px;height:746px;background:rgba(140,135,130,.12)"></div>
</body></html>
